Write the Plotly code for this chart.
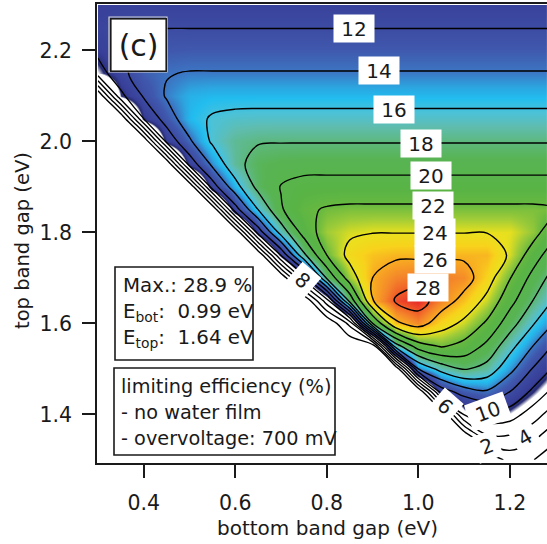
import plotly.graph_objects as go

# ---------------- data ----------------
bottom_gap = [0.30, 0.35, 0.40, 0.45, 0.50, 0.55, 0.60, 0.65, 0.70, 0.75, 0.80,
              0.85, 0.90, 0.95, 1.00, 1.05, 1.10, 1.15, 1.20, 1.25, 1.30]
top_gap = [1.30, 1.35, 1.40, 1.45, 1.50, 1.55, 1.60, 1.65, 1.70, 1.75, 1.80,
           1.85, 1.90, 1.95, 2.00, 2.05, 2.10, 2.15, 2.20, 2.25, 2.30]

# limiting efficiency (%) ; one row per top band gap (ascending), one column per bottom band gap
eff_130 = [0]*18 + [2.8, 2.1, 0.4]
eff_135 = [0]*17 + [5.6, 5.7, 4.5, 2.5]
eff_140 = [0]*16 + [8.2, 9.5, 9.0, 7.0, 4.8]
eff_145 = [0]*15 + [10.9, 13.0, 13.8, 12.0, 9.6, 7.2]
eff_150 = [0]*14 + [14.0, 16.8, 18.2, 17.3, 14.6, 11.9, 9.5]
eff_155 = [0]*12 + [0.4, 17.0, 21.0, 22.2, 21.4, 19.5, 16.7, 14.0, 11.6]
eff_160 = [0]*11 + [4.6, 20.0, 25.6, 26.9, 24.9, 23.6, 21.7, 18.9, 16.2, 13.8]
eff_165 = [0]*10 + [7.2, 18.7, 25.9, 28.2, 28.9, 27.0, 25.4, 23.5, 20.7, 18.0, 15.6]
eff_170 = [0]*9 + [8.9, 18.3, 23.0, 26.0, 27.0, 27.3, 27.2, 26.8, 24.9, 22.1, 19.4, 17.0]
eff_175 = [0]*8 + [10.2, 17.6, 22.0, 24.6, 25.4, 25.7, 25.7, 25.7, 25.7, 25.7, 23.7, 21.0, 18.6]
eff_180 = [0]*7 + [10.8, 16.8, 20.8, 23.0, 23.7, 23.94, 23.94, 23.94, 23.94, 23.94, 23.94, 23.94, 22.8, 20.4]
eff_185 = [0]*6 + [11.1, 16.0, 19.8, 21.6, 22.2, 22.4, 22.4, 22.4, 22.4, 22.4, 22.4, 22.4, 22.4, 22.4, 22.2]
eff_190 = [0]*5 + [11.0, 15.2, 18.6, 20.1, 20.7] + [20.77]*11
eff_195 = [0]*4 + [10.8, 14.4, 17.4, 18.8, 19.2] + [19.28]*12
eff_200 = [0]*3 + [10.5, 13.7, 16.3, 17.5, 17.85] + [17.9]*13
eff_205 = [0]*2 + [10.0, 12.9, 15.3, 16.2, 16.5] + [16.56]*14
eff_210 = [0] + [9.5, 12.2, 14.2, 15.1] + [15.3]*16
eff_215 = [9.0, 11.4, 13.2, 13.9] + [14.1]*17
eff_220 = [10.5, 11.4, 12.5, 12.95] + [13.03]*17
eff_225 = [11.1, 11.55, 11.9] + [11.96]*18
eff_230 = [10.6, 10.85] + [10.9]*19

efficiency = [eff_130, eff_135, eff_140, eff_145, eff_150, eff_155, eff_160,
              eff_165, eff_170, eff_175, eff_180, eff_185, eff_190, eff_195,
              eff_200, eff_205, eff_210, eff_215, eff_220, eff_225, eff_230]

x_ticks = [0.4, 0.6, 0.8, 1.0, 1.2]
x_ticktext = ["0.4", "0.6", "0.8", "1.0", "1.2"]
y_ticks = [1.4, 1.6, 1.8, 2.0, 2.2]
y_ticktext = ["1.4", "1.6", "1.8", "2.0", "2.2"]

contour_label_text = ["12", "14", "16", "18", "20", "22", "24", "26", "28", "8", "6", "10", "2", "4"]

max_text = ["Max.: 28.9 %", "E<sub>bot</sub>:\u00a0 0.99 eV", "E<sub>top</sub>:\u00a0 1.64 eV"]
info_text = ["limiting efficiency (%)", "- no water film", "- overvoltage: 700 mV"]

# ---------------- style ----------------
FONT = "DejaVu Sans"
INK = "#1a1a1a"

stops = [(0, "#ffffff"), (9.0, "#ffffff"), (9.6, "#262b70"), (10.5, "#383f98"),
         (12.0, "#3d4ca3"), (13.0, "#3f58ad"), (14.0, "#3d74c2"), (14.8, "#2ea4df"),
         (15.4, "#22bdf0"), (16.2, "#4cc2d8"), (17.0, "#5fbdb0"), (18.0, "#5db87a"),
         (19.0, "#58b453"), (21.0, "#59b445"), (22.0, "#68b940"), (23.0, "#a0cc38"),
         (24.0, "#eae11e"), (25.0, "#f8d31c"), (26.0, "#f8aa22"), (27.0, "#f4852a"),
         (28.0, "#ef5628"), (29.0, "#e5242a")]
ZMAX = 29.0
colorscale = [[v / ZMAX, c] for v, c in stops]

fig = go.Figure()
fig.add_trace(go.Contour(
    x=bottom_gap, y=top_gap, z=efficiency,
    zauto=False, zmin=0, zmax=ZMAX, colorscale=colorscale, showscale=False,
    autocontour=False,
    contours=dict(start=2, end=28, size=2, coloring="heatmap", showlabels=False),
    line=dict(color="black", width=1.4, smoothing=1),
    hoverinfo="skip",
))

# contour labels (white boxes)
label_pos = [(0.860, 2.248, 0), (0.915, 2.156, 0), (0.947, 2.071, 0), (1.006, 1.996, 0),
             (1.027, 1.924, 0), (1.031, 1.860, 0), (1.037, 1.799, 0), (1.037, 1.740, 0),
             (1.020, 1.679, 0), (0.748, 1.695, 41), (1.059, 1.417, 41), (1.153, 1.406, -20),
             (1.149, 1.329, -20), (1.233, 1.349, -30)]
annotations = []
for txt, (lx, ly, ang) in zip(contour_label_text, label_pos):
    w = 38 if len(txt) > 1 else 22
    annotations.append(dict(x=lx, y=ly, xref="x", yref="y", text=txt, showarrow=False,
                            xanchor="center", yanchor="middle",
                            bgcolor="white", width=w, height=25, textangle=ang,
                            font=dict(family=FONT, size=20, color=INK)))

# plot-area pixel helpers (plot area: x 97..547, y 4..463)
def px(xp):
    return (xp - 97) / 450.0

def py(yp):
    return (463 - yp) / 459.0

# (c) box
annotations.append(dict(x=px(138), y=py(44.5), xref="paper", yref="paper", text="(c)",
                        xanchor="center", yanchor="middle",
                        showarrow=False, bgcolor="white", bordercolor=INK, borderwidth=1.6,
                        width=52, height=49, font=dict(family=FONT, size=30, color=INK)))

shapes = [
    dict(type="rect", xref="paper", yref="paper", x0=px(109), x1=px(167), y0=py(72), y1=py(17),
         line=dict(color="#d4d4d4", width=1.2), fillcolor="rgba(0,0,0,0)", layer="above"),
    dict(type="rect", xref="paper", yref="paper", x0=px(115), x1=px(253), y0=py(360), y1=py(267),
         line=dict(color=INK, width=1.6), fillcolor="white", layer="above"),
    dict(type="rect", xref="paper", yref="paper", x0=px(114), x1=px(335), y0=py(455), y1=py(368),
         line=dict(color=INK, width=1.6), fillcolor="white", layer="above"),
]
for t, yc in zip(max_text, [285, 312, 339]):
    annotations.append(dict(x=px(121), y=py(yc), xref="paper", yref="paper", text=t,
                            showarrow=False, xanchor="left", yanchor="middle",
                            font=dict(family=FONT, size=19.8, color=INK)))
for t, yc in zip(info_text, [386, 412, 438]):
    annotations.append(dict(x=px(119), y=py(yc), xref="paper", yref="paper", text=t,
                            showarrow=False, xanchor="left", yanchor="middle",
                            font=dict(family=FONT, size=19.3, color=INK)))

# axis titles
annotations.append(dict(x=px(327), y=0, yshift=-65, xref="paper", yref="paper",
                        text="bottom band gap (eV)", showarrow=False,
                        xanchor="center", yanchor="middle",
                        font=dict(family=FONT, size=20, color=INK)))
annotations.append(dict(x=0, xshift=-74, y=py(241), xref="paper", yref="paper",
                        text="top band gap (eV)", showarrow=False, textangle=-90,
                        xanchor="center", yanchor="middle",
                        font=dict(family=FONT, size=19.5, color=INK)))

fig.update_layout(
    width=547, height=544,
    margin=dict(l=97, r=0, t=4, b=81),
    paper_bgcolor="white", plot_bgcolor="white",
    font=dict(family=FONT, size=20, color=INK),
    showlegend=False,
    annotations=annotations, shapes=shapes,
    xaxis=dict(range=[0.298, 1.281], tickvals=x_ticks, ticktext=x_ticktext,
               ticks="outside", ticklen=13, tickwidth=1.6, tickcolor=INK,
               showline=True, linecolor=INK, linewidth=1.8, mirror=True,
               showgrid=False, zeroline=False, ticklabelstandoff=7,
               tickfont=dict(family=FONT, size=20.5, color=INK)),
    yaxis=dict(range=[1.293, 2.302], tickvals=y_ticks, ticktext=y_ticktext,
               ticks="outside", ticklen=13, tickwidth=1.6, tickcolor=INK,
               showline=True, linecolor=INK, linewidth=1.8, mirror=False,
               showgrid=False, zeroline=False, ticklabelstandoff=6,
               tickfont=dict(family=FONT, size=20.5, color=INK)),
)

fig.write_html("out.html")
